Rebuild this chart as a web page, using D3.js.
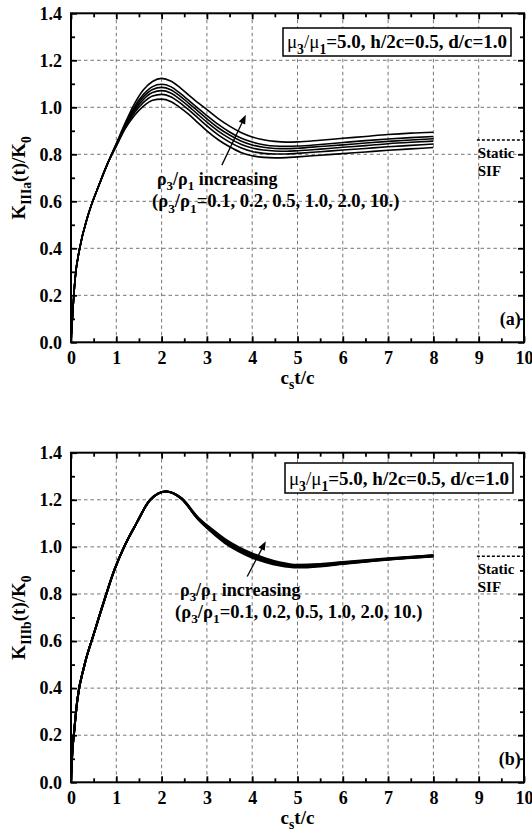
<!DOCTYPE html>
<html><head><meta charset="utf-8">
<script src="https://cdn.jsdelivr.net/npm/d3@7"></script>
<style>
body{margin:0;background:#fff}
svg{display:block}
text{font-family:"Liberation Serif","Times New Roman",serif;font-weight:bold;fill:#000}
</style>
</head><body>
<svg id="chart" width="532" height="835"></svg>
<script>
// ---------- data ----------
const xTickValues = [0,1,2,3,4,5,6,7,8,9,10];
const yTickValues = [0,0.2,0.4,0.6,0.8,1.0,1.2,1.4];
const xTickLabels = ["0","1","2","3","4","5","6","7","8","9","10"];
const yTickLabels = ["0.0","0.2","0.4","0.6","0.8","1.0","1.2","1.4"];
const rhoRatios = [0.1, 0.2, 0.5, 1.0, 2.0, 10.0];

// panel (a): K_IIIa(t)/K0
const timeA = [0,0.037,0.088,0.2,0.36,0.64,0.8,1.0,1.2,1.4,1.6,1.8,2.0,2.2,2.4,2.6,2.8,3.0,3.25,3.5,3.75,4.0,4.25,4.5,4.75,5.0,5.5,6.0,6.5,7.0,7.5,8.0];
const riseA = [0,0.123,0.265,0.407,0.53,0.68,0.757];
const tailA1 = [0.835,0.910,0.965,1.005,1.030,1.035,1.025,1.000,0.970,0.935,0.900,0.862,0.832,0.808,0.794,0.787,0.785,0.786,0.789,0.796,0.803,0.810,0.817,0.823,0.829];
const tailA2 = [0.837,0.915,0.977,1.021,1.048,1.055,1.045,1.020,0.989,0.955,0.921,0.883,0.852,0.828,0.812,0.804,0.801,0.801,0.804,0.811,0.818,0.825,0.832,0.838,0.844];
const tailA3 = [0.839,0.919,0.986,1.034,1.063,1.071,1.061,1.035,1.004,0.970,0.937,0.899,0.868,0.843,0.827,0.818,0.814,0.813,0.815,0.822,0.830,0.837,0.845,0.851,0.856];
const tailA4 = [0.841,0.923,0.994,1.045,1.076,1.085,1.075,1.049,1.017,0.984,0.951,0.913,0.882,0.857,0.840,0.830,0.825,0.824,0.826,0.833,0.840,0.848,0.855,0.861,0.866];
const tailA5 = [0.843,0.928,1.002,1.055,1.088,1.098,1.088,1.061,1.029,0.996,0.965,0.927,0.895,0.869,0.852,0.841,0.835,0.834,0.835,0.842,0.850,0.858,0.865,0.871,0.876];
const tailA6 = [0.846,0.935,1.015,1.075,1.110,1.123,1.112,1.085,1.052,1.020,0.990,0.952,0.920,0.893,0.874,0.862,0.855,0.852,0.853,0.860,0.868,0.876,0.884,0.890,0.894];
const staticA = 0.861;

// panel (b): K_IIIb(t)/K0
const timeB = [0,0.03,0.066,0.14,0.29,0.51,0.74,0.96,1.18,1.45,1.74,2.1,2.44,2.81,3.1,3.4,3.7,4.0,4.3,4.6,5.0,5.5,6.0,7.0,8.0];
const riseB = [0,0.13,0.208,0.35,0.492,0.634,0.776,0.903,1.003,1.102,1.198,1.235];
const tailB1 = [1.203,1.116,1.063,1.016,0.981,0.954,0.935,0.921,0.912,0.917,0.927,0.945,0.959];
const tailB2 = [1.204,1.117,1.066,1.019,0.985,0.958,0.938,0.924,0.914,0.919,0.928,0.946,0.960];
const tailB3 = [1.205,1.118,1.068,1.022,0.988,0.961,0.941,0.927,0.917,0.921,0.930,0.947,0.961];
const tailB4 = [1.205,1.120,1.071,1.026,0.992,0.965,0.945,0.929,0.919,0.923,0.932,0.949,0.963];
const tailB5 = [1.206,1.122,1.074,1.029,0.995,0.968,0.948,0.932,0.922,0.925,0.934,0.950,0.964];
const tailB6 = [1.207,1.124,1.077,1.033,0.999,0.972,0.951,0.935,0.924,0.927,0.936,0.952,0.965];
const staticB = 0.96;

// ---------- drawing ----------
const svg = d3.select("#chart");
const L = 71, R = 524;
const x = d3.scaleLinear().domain([0,10]).range([L,R]);

function richText(g, xPos, yPos, parts, size, anchor, subShift){
  const sh = subShift || 0.3;
  const t = g.append("text").attr("x", xPos).attr("y", yPos)
    .style("font-size", size+"px").attr("text-anchor", anchor||"start");
  parts.forEach(p=>{
    const sp = t.append("tspan").text(p.t);
    if (p.sub){ sp.style("font-size",(size*0.72)+"px").attr("dy", size*sh); }
    else if (p.after){ sp.attr("dy", -size*sh); }
    if (p.normal) sp.style("font-weight","normal");
  });
  return t;
}

function panel(opts){
  const y = d3.scaleLinear().domain([0,1.4]).range([opts.bottom, opts.top]);
  const g = svg.append("g");
  // grid
  g.append("g").selectAll("line").data(xTickValues.slice(1,-1)).join("line")
    .attr("x1",d=>x(d)).attr("x2",d=>x(d)).attr("y1",opts.top).attr("y2",opts.bottom)
    .attr("stroke","#666").attr("stroke-width",0.9).attr("stroke-dasharray","3.5,3");
  g.append("g").selectAll("line").data(yTickValues.slice(1,-1)).join("line")
    .attr("y1",d=>y(d)).attr("y2",d=>y(d)).attr("x1",L).attr("x2",R)
    .attr("stroke","#666").attr("stroke-width",0.9).attr("stroke-dasharray","3.5,3");

  const minorX = d3.range(0.5,10,1), minorY = d3.range(0.1,1.4,0.2);
  const styleAxis = s => { s.select(".domain").remove(); s.selectAll(".tick line").attr("stroke","#000").attr("stroke-width",1.8); };
  const styleText = s => s.selectAll("text").style("font-size","18px").style("font-family","Liberation Serif").style("font-weight","bold");
  // bottom
  g.append("g").attr("transform",`translate(0,${opts.bottom})`)
    .call(d3.axisBottom(x).tickValues(xTickValues).tickFormat((d,i)=>xTickLabels[i]).tickSize(-6).tickPadding(8.5))
    .call(styleAxis).call(styleText);
  g.append("g").attr("transform",`translate(0,${opts.bottom})`)
    .call(d3.axisBottom(x).tickValues(minorX).tickFormat("").tickSize(-4)).call(styleAxis);
  // top
  g.append("g").attr("transform",`translate(0,${opts.top})`)
    .call(d3.axisTop(x).tickValues(xTickValues).tickFormat("").tickSize(-6)).call(styleAxis);
  g.append("g").attr("transform",`translate(0,${opts.top})`)
    .call(d3.axisTop(x).tickValues(minorX).tickFormat("").tickSize(-4)).call(styleAxis);
  // left
  g.append("g").attr("transform",`translate(${L},0)`)
    .call(d3.axisLeft(y).tickValues(yTickValues).tickFormat((d,i)=>yTickLabels[i]).tickSize(-6).tickPadding(9))
    .call(styleAxis).call(styleText);
  g.append("g").attr("transform",`translate(${L},0)`)
    .call(d3.axisLeft(y).tickValues(minorY).tickFormat("").tickSize(-4)).call(styleAxis);
  // right
  g.append("g").attr("transform",`translate(${R},0)`)
    .call(d3.axisRight(y).tickValues(yTickValues).tickFormat("").tickSize(-6)).call(styleAxis);
  g.append("g").attr("transform",`translate(${R},0)`)
    .call(d3.axisRight(y).tickValues(minorY).tickFormat("").tickSize(-4)).call(styleAxis);
  // frame
  g.append("rect").attr("x",L).attr("y",opts.top).attr("width",R-L).attr("height",opts.bottom-opts.top)
    .attr("fill","none").attr("stroke","#000").attr("stroke-width",2);

  // curves
  const line = d3.line().x(d=>x(d[0])).y(d=>y(d[1])).curve(d3.curveMonotoneX);
  opts.series.forEach(vals=>{
    g.append("path").datum(opts.time.map((t,i)=>[t, vals[i]]))
      .attr("d",line).attr("fill","none").attr("stroke","#000")
      .attr("stroke-width",opts.lw).attr("stroke-linejoin","round");
  });

  // static SIF
  g.append("line").attr("x1",x(8.96)).attr("x2",x(10)).attr("y1",y(opts.staticV)).attr("y2",y(opts.staticV))
    .attr("stroke","#000").attr("stroke-width",1.6).attr("stroke-dasharray","3,2");
  g.append("text").attr("x",x(8.98)).attr("y",y(opts.staticV)+18).style("font-size","15px").text("Static");
  g.append("text").attr("x",x(8.98)).attr("y",y(opts.staticV)+36).style("font-size","15px").text("SIF");

  // info box
  g.append("rect").attr("x",opts.box[0]).attr("y",opts.box[1]).attr("width",228).attr("height",opts.box[2])
    .attr("fill","#fff").attr("stroke","#000").attr("stroke-width",1.5);
  richText(g, opts.box[0]+114, opts.box[1]+opts.box[2]-8, [
    {t:"μ",normal:true},{t:"3",sub:true},{t:"/μ",after:true,normal:true},{t:"1",sub:true},
    {t:"=5.0, h/2c=0.5, d/c=1.0",after:true}], 19, "middle");

  // annotation
  richText(g, x(opts.ann[0]), y(opts.ann[1]), [
    {t:"ρ"},{t:"3",sub:true},{t:"/ρ",after:true},{t:"1",sub:true},{t:" increasing",after:true}], 18);
  richText(g, x(opts.ann[2]), y(opts.ann[3]), [
    {t:"(ρ"},{t:"3",sub:true},{t:"/ρ",after:true},{t:"1",sub:true},
    {t:"="+rhoRatios.map(v=>v===10?"10.":v.toFixed(1)).join(", ")+")",after:true}], 18.6);
  // arrow
  const ax1=x(opts.arrow[0]), ay1=y(opts.arrow[1]), ax2=x(opts.arrow[2]), ay2=y(opts.arrow[3]);
  const ang=Math.atan2(ay2-ay1, ax2-ax1), hl=9, hw=3.5;
  g.append("line").attr("x1",ax1).attr("y1",ay1).attr("x2",ax2-Math.cos(ang)*hl*0.8).attr("y2",ay2-Math.sin(ang)*hl*0.8)
    .attr("stroke","#000").attr("stroke-width",1.3);
  const bx=ax2-Math.cos(ang)*hl, by=ay2-Math.sin(ang)*hl;
  g.append("path").attr("d",`M${ax2},${ay2}L${bx-Math.sin(ang)*hw},${by+Math.cos(ang)*hw}L${bx+Math.sin(ang)*hw},${by-Math.cos(ang)*hw}Z`)
    .attr("fill","#000");

  // panel label
  g.append("text").attr("x",x(9.93)).attr("y",y(opts.labelV)).attr("text-anchor","end").style("font-size","18px").text(opts.label);

  // axis titles
  richText(g, x(5), opts.bottom+42, [{t:"c"},{t:"s",sub:true},{t:"t/c",after:true}], 19, "middle", 0.24);
  const yt = richText(g, 0, 0, [{t:"K"},{t:opts.sub,sub:true},{t:"(t)/K",after:true},{t:"0",sub:true}], 19, "middle");
  yt.attr("transform",`translate(25,${(opts.top+opts.bottom)/2}) rotate(-90)`);
}

panel({top:13.3, bottom:342.3, time:timeA, lw:1.6,
  series:[tailA1,tailA2,tailA3,tailA4,tailA5,tailA6].map(t=>riseA.concat(t)),
  staticV:staticA, box:[283,28,28], ann:[1.898,0.669,1.788,0.576], arrow:[3.33,0.754,3.86,0.968],
  label:"(a)", labelV:0.075, sub:"IIIa"});
panel({top:452.7, bottom:782.3, time:timeB, lw:2,
  series:[tailB1,tailB2,tailB3,tailB4,tailB5,tailB6].map(t=>riseB.concat(t)),
  staticV:staticB, box:[285,463,30], ann:[2.406,0.793,2.296,0.699], arrow:[3.89,0.874,4.30,1.024],
  label:"(b)", labelV:0.075, sub:"IIIb"});
</script>
</body></html>
